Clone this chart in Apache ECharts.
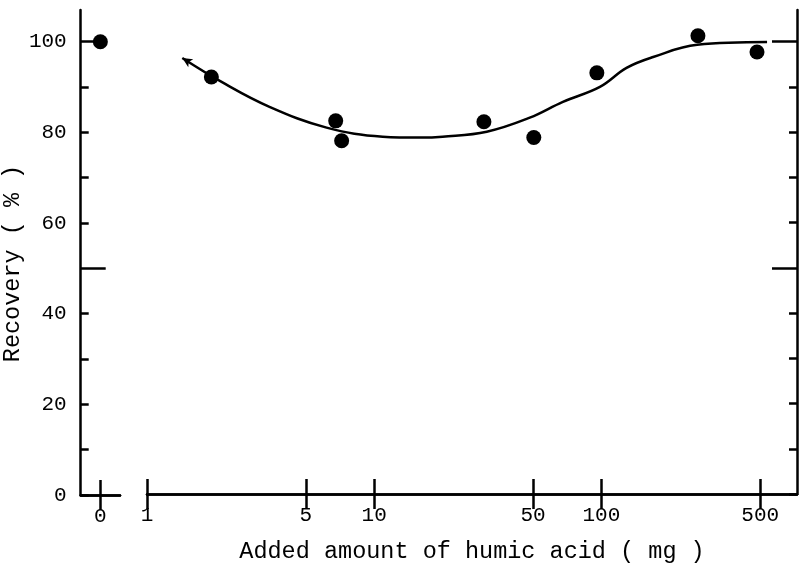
<!DOCTYPE html>
<html><head><meta charset="utf-8">
<script src="https://cdn.jsdelivr.net/npm/echarts@6/dist/echarts.min.js"></script>
<style>html,body{margin:0;padding:0;background:#fff}#c{width:799px;height:569px}</style>
</head><body><div id="c"></div>
<script>
// ---- data ----
const zeroAmount = [0];
const zeroRecovery = [100];
const amounts = [1.92, 6.77, 7.19, 30.4, 50.4, 95.5, 266, 484];
const recovery = [92.2, 82.5, 78.1, 82.3, 78.8, 93.1, 101.3, 97.7];
const curveAmounts = [1.43, 2.13, 3.46, 6.17, 10.9, 15.9, 20, 31.3, 48.4, 67.7, 98.5, 129, 169, 264, 536];
const curveRecovery = [96.4, 91.1, 85.6, 81.0, 79.0, 78.8, 79.0, 80.1, 83.2, 86.7, 90.0, 94.2, 96.6, 99.3, 99.9];
const xTicksLog = [1, 5, 10, 50, 100, 500];
const xTicksZero = [0];
const yTicks = [0, 10, 20, 30, 40, 50, 60, 70, 80, 90, 100];
const yLabels = [0, 20, 40, 60, 80, 100];
const yLongTicks = [50, 100];

const ink = '#000';
const font = 'Liberation Mono';
const lineStyle = { color: ink, width: 2.5 };

function xAxisDef(gridIndex, position, type, min, max, ticks, showLabels) {
  return {
    type, gridIndex, position, min, max,
    logBase: 10,
    axisLine: { show: true, lineStyle },
    axisTick: { show: true, inside: true, length: 15, customValues: ticks, lineStyle },
    axisLabel: { show: showLabels, customValues: ticks, margin: 11, color: ink, fontFamily: font, fontSize: 21 },
    splitLine: { show: false },
    minorTick: { show: false }
  };
}
function yAxisDef(gridIndex, position, ticks, len, showLine, showLabels) {
  return {
    type: 'value', gridIndex, position, min: 0, max: 107, offset: 0,
    axisLine: { show: showLine, onZero: false, lineStyle },
    axisTick: { show: true, inside: true, length: len, customValues: ticks, lineStyle },
    axisLabel: { show: showLabels, customValues: yLabels, margin: 14, color: ink, fontFamily: font, fontSize: 21 },
    splitLine: { show: false }
  };
}

const xAxes = [
  xAxisDef(0, 'bottom', 'value', -1, 1, xTicksZero, true),
  xAxisDef(0, 'top', 'value', -1, 1, xTicksZero, false),
  Object.assign(xAxisDef(1, 'bottom', 'log', 1, 726, xTicksLog, true), {
    name: 'Added amount of humic acid ( mg )', nameLocation: 'middle', nameGap: 46,
    nameMoveOverlap: false,
    nameTextStyle: { color: ink, fontFamily: font, fontSize: 23.5 }
  }),
  xAxisDef(1, 'top', 'log', 1, 726, xTicksLog, false)
];
const yAxes = [
  Object.assign(yAxisDef(0, 'left', yTicks, 8, true, true), {
    name: 'Recovery ( % )', nameLocation: 'middle', nameGap: 2,
    nameTextStyle: { color: ink, fontFamily: font, fontSize: 23.5, padding: [0, 22, 0, 0] }
  }),
  yAxisDef(0, 'left', yLongTicks, 25, false, false),
  yAxisDef(1, 'right', yTicks, 8, true, false),
  yAxisDef(1, 'right', yLongTicks, 25, false, false)
];

const chart = echarts.init(document.getElementById('c'), null, { renderer: 'canvas' });
chart.setOption({
  backgroundColor: '#fff',
  animation: false,
  grid: [
    { left: 79, top: 10, width: 41, height: 485 },
    { left: 147, top: 10, width: 650, height: 485 }
  ],
  xAxis: xAxes,
  yAxis: yAxes,
  series: [
    {
      type: 'scatter', xAxisIndex: 0, yAxisIndex: 0,
      data: zeroAmount.map((a, i) => [a, zeroRecovery[i]]),
      symbol: 'circle', symbolSize: 15, itemStyle: { color: ink, opacity: 1 }
    },
    {
      type: 'line', xAxisIndex: 2, yAxisIndex: 2, smooth: 0.4,
      data: curveAmounts.map((a, i) => i === 0
        ? { value: [a, curveRecovery[i]], symbol: 'arrow', symbolSize: [7, 10], symbolRotate: 58 }
        : [a, curveRecovery[i]]),
      symbol: 'none', showSymbol: true,
      lineStyle: { color: ink, width: 2.5 }, itemStyle: { color: ink, opacity: 1 }
    },
    {
      type: 'scatter', xAxisIndex: 2, yAxisIndex: 2,
      data: amounts.map((a, i) => [a, recovery[i]]),
      symbol: 'circle', symbolSize: 15, itemStyle: { color: ink, opacity: 1 }, z: 3
    }
  ]
});
</script></body></html>
